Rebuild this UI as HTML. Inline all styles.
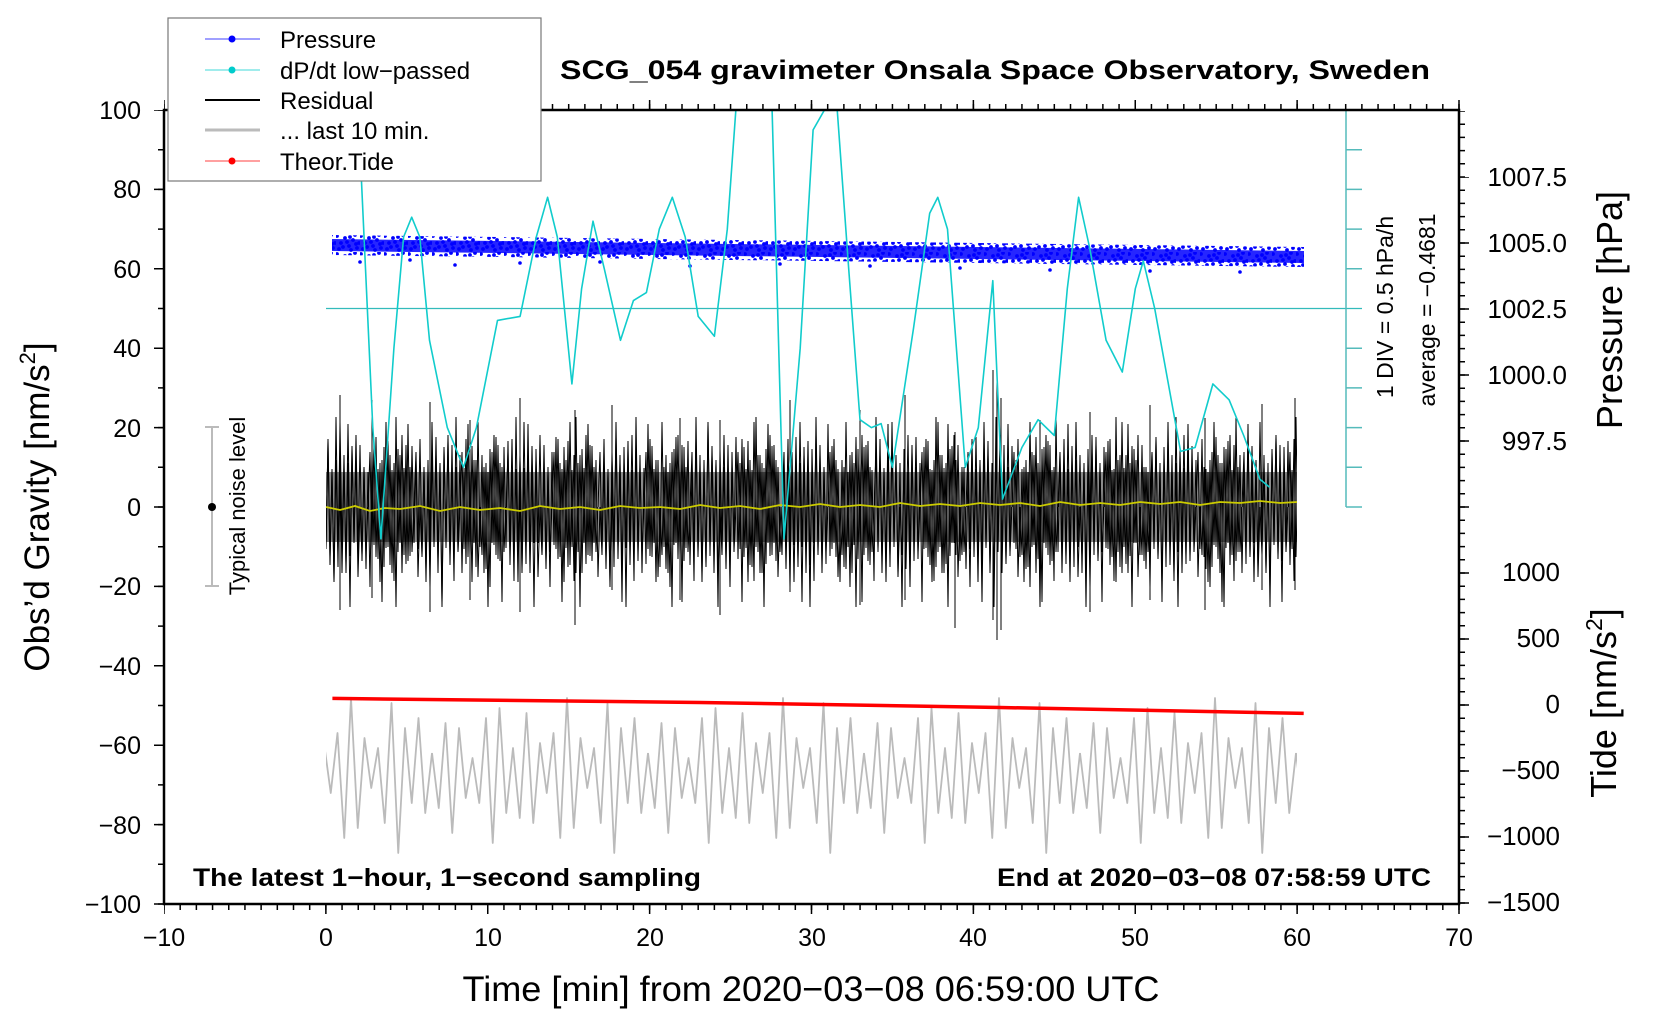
<!DOCTYPE html>
<html><head><meta charset="utf-8"><style>
html,body{margin:0;padding:0;background:#fff;}
svg{display:block;font-family:"Liberation Sans",Arial,sans-serif;}
</style></head><body>
<svg width="1660" height="1020" viewBox="0 0 1660 1020" xmlns="http://www.w3.org/2000/svg">
<defs>
<clipPath id="cp"><rect x="164" y="110" width="1295" height="794"/></clipPath>
<pattern id="r1" patternUnits="userSpaceOnUse" x="0" y="357" width="60" height="300">
<polyline fill="none" stroke="#000" stroke-width="1" points="0,150 2,198 4,110 6,212 8,115 10,230 12,95 14,188 16,80 18,202 20,106 22,245 24,90 26,191 28,84 30,208 32,113 34,224 36,60 38,195 40,98 42,216 44,111 46,207 48,67 50,199 52,89 54,186 56,103 58,220 60,150"/>
</pattern>
<pattern id="r2" patternUnits="userSpaceOnUse" x="0" y="357" width="46" height="300">
<polyline fill="none" stroke="#000" stroke-width="1" points="0,150 2,95 4,192 6,82 8,200 10,112 12,225 14,103 16,210 18,65 20,190 22,98 24,216 26,106 28,250 30,92 32,186 34,78 36,198 38,88 40,204 42,110 44,195 46,150"/>
</pattern>
<pattern id="gr" patternUnits="userSpaceOnUse" x="0" y="623" width="216" height="300">
<polyline fill="none" stroke="#bbb" stroke-width="1.8" stroke-linejoin="round" points="0,130 6.75,185 13.5,100 20.25,210 27,105 33.75,175 40.5,135 47.25,180 54,95 60.75,220 67.5,85 74.25,190 81,125 87.75,195 94.5,90 101.25,200 108,120 114.75,170 121.5,110 128.25,215 135,75 141.75,205 148.5,115 155.25,165 162,125 168.75,200 175.5,80 182.25,230 189,105 195.75,180 202.5,95 209.25,190 216,130"/>
</pattern>
<pattern id="pd" patternUnits="userSpaceOnUse" x="0" y="0" width="24" height="18">
<g fill="#00f">
<circle cx="1" cy="2" r="1.9"/><circle cx="5" cy="9" r="1.9"/><circle cx="9" cy="4" r="1.9"/><circle cx="13" cy="12" r="1.9"/>
<circle cx="17" cy="6" r="1.9"/><circle cx="21" cy="14" r="1.9"/><circle cx="3" cy="15" r="1.9"/><circle cx="11" cy="8" r="1.9"/>
<circle cx="19" cy="1" r="1.9"/><circle cx="7" cy="13" r="1.9"/><circle cx="15" cy="16" r="1.9"/><circle cx="23" cy="9" r="1.9"/>
<circle cx="14" cy="3" r="1.9"/><circle cx="20" cy="10" r="1.9"/>
</g>
</pattern>
</defs>
<g clip-path="url(#cp)">
<line x1="326" y1="308.5" x2="1362" y2="308.5" stroke="#3bb" stroke-width="1.3"/>
<line x1="1346" y1="110" x2="1346" y2="507" stroke="#5bb" stroke-width="1.5"/>
<path d="M1346 110h16M1346 149.7h16M1346 189.4h16M1346 229.1h16M1346 268.8h16M1346 348.2h16M1346 387.9h16M1346 427.6h16M1346 467.3h16M1346 507h16" stroke="#5bb" stroke-width="1.5"/>
<rect x="326" y="623" width="971" height="300" fill="url(#gr)"/>
<path d="M332.4 698.4 L700 702.5 L1000 707.5 L1303.7 713.4" fill="none" stroke="#f00" stroke-width="3.5"/>
<rect x="326" y="357" width="971" height="300" fill="url(#r1)"/>
<rect x="326" y="357" width="971" height="300" fill="url(#r2)"/>
<rect x="326" y="472" width="971" height="70" fill="#000" opacity="0.45"/>
<path d="M340 395V610M372 400V598M430 402V612M470 420V600M520 398V612M575 410V625M612 405V590M680 418V600M720 420V615M790 400V592M860 410V605M905 395V600M955 432V628M993 370V620M997 375V640M1001 398V630M1040 420V598M1090 412V612M1150 405V600M1205 418V610M1262 404V590M1295 398V590" stroke="#000" stroke-width="1"/>
<polyline fill="none" stroke="#cc0" stroke-width="1.8" points="326,507 340,510 355,506 370,511 385,508 400,509 420,506 440,511 460,507 480,510 500,508 520,511 540,506 560,509 580,507 600,510 620,506 640,508 660,507 680,509 700,505 720,508 740,506 760,509 780,505 800,507 820,504 840,507 860,505 880,507 900,503 920,506 940,504 960,506 980,503 1000,505 1020,503 1040,506 1060,502 1080,505 1100,503 1120,505 1140,502 1160,504 1180,502 1200,505 1220,502 1240,503 1260,501 1280,503 1297,502"/>
<polygon points="332,235 1304,247 1304,267 332,255" fill="url(#pd)"/>
<polygon points="332,239 1304,251 1304,263 332,251" fill="#00f" opacity="0.85"/>
<g fill="#00f"><circle cx="360" cy="262" r="1.8"/><circle cx="410" cy="260" r="1.8"/><circle cx="455" cy="265" r="1.8"/><circle cx="520" cy="263" r="1.8"/><circle cx="600" cy="262" r="1.8"/><circle cx="690" cy="266" r="1.8"/><circle cx="780" cy="264" r="1.8"/><circle cx="870" cy="266" r="1.8"/><circle cx="960" cy="268" r="1.8"/><circle cx="1050" cy="270" r="1.8"/><circle cx="1150" cy="271" r="1.8"/><circle cx="1240" cy="272" r="1.8"/></g>
<polyline fill="none" stroke="#1cc" stroke-width="1.6" stroke-linejoin="round" points="345.3,-9.1 361.5,181.5 372.8,427.6 380.9,538.8 393.9,348.2 403.6,237 411.7,217.2 419.8,237 429.5,340.3 447.3,427.6 463.5,467.3 476.4,427.6 497.5,320.4 520.1,316.4 536.3,237 547.6,197.3 557.3,237 571.9,383.9 581.6,288.7 593,221.2 604.3,268.8 620.5,340.3 633.4,300.6 646.4,292.6 659.3,229.1 672.3,197.3 685.2,237 698.2,316.4 714.4,336.3 727.3,229.1 738.7,70.3 771,70.3 784,538.8 800.2,348.2 813.1,129.9 835.8,90.1 848.7,268.8 860,419.7 871.4,427.6 881.1,423.6 892.4,467.3 913.5,328.4 929.7,213.2 937.8,197.3 947.5,229.1 965.3,467.3 978.3,427.6 992.8,280.7 1002.5,499.1 1021.9,447.5 1038.1,419.7 1054.3,435.5 1067.3,288.7 1078.6,197.3 1089.9,249 1106.1,340.3 1122.3,372 1135.3,288.7 1143.3,260.9 1154.7,308.5 1180.6,451.4 1195.1,447.5 1212.9,383.9 1229.1,399.8 1243.7,435.5 1259.9,479.2 1269.6,487.2"/>
</g>
<g stroke="#000" fill="none">
<line x1="164" y1="907" x2="1460" y2="907" stroke-width="6" stroke-dasharray="1.5 14.6875" stroke-dashoffset="0.75"/>
<line x1="164" y1="909" x2="1460" y2="909" stroke-width="10" stroke-dasharray="1.5 160.375" stroke-dashoffset="0.75"/>
<line x1="164" y1="107" x2="1460" y2="107" stroke-width="6" stroke-dasharray="1.5 14.6875" stroke-dashoffset="0.75"/>
<line x1="164" y1="105" x2="1460" y2="105" stroke-width="10" stroke-dasharray="1.5 160.375" stroke-dashoffset="0.75"/>
<line x1="161" y1="110" x2="161" y2="905" stroke-width="6" stroke-dasharray="1.5 38.2" stroke-dashoffset="0.75"/>
<line x1="159" y1="110" x2="159" y2="905" stroke-width="10" stroke-dasharray="1.5 77.9" stroke-dashoffset="0.75"/>
<line x1="1462" y1="111" x2="1462" y2="905" stroke-width="6" stroke-dasharray="1.5 11.7" stroke-dashoffset="0.75"/>
<line x1="1464" y1="177" x2="1464" y2="905" stroke-width="10" stroke-dasharray="1.5 64.5" stroke-dashoffset="0.75"/>
</g>
<rect x="164" y="110" width="1295" height="794" fill="none" stroke="#000" stroke-width="2.5"/>
<text x="560" y="79" font-size="27" font-weight="bold" textLength="870" lengthAdjust="spacingAndGlyphs">SCG_054 gravimeter Onsala Space Observatory, Sweden</text>
<rect x="168" y="18" width="373" height="163" fill="#fff" stroke="#777" stroke-width="1.2"/>
<line x1="205" y1="39" x2="260" y2="39" stroke="#00f" stroke-width="0.8"/><circle cx="232" cy="39" r="3.5" fill="#00f"/>
<line x1="205" y1="70" x2="260" y2="70" stroke="#0cc" stroke-width="0.8"/><circle cx="232" cy="70" r="3.5" fill="#0cc"/>
<line x1="205" y1="100" x2="260" y2="100" stroke="#000" stroke-width="2"/>
<line x1="205" y1="130" x2="260" y2="130" stroke="#bbb" stroke-width="3"/>
<line x1="205" y1="161" x2="260" y2="161" stroke="#f00" stroke-width="0.8"/><circle cx="232" cy="161" r="3.5" fill="#f00"/>
<g font-size="24">
<text x="280" y="48">Pressure</text>
<text x="280" y="79">dP/dt low−passed</text>
<text x="280" y="109">Residual</text>
<text x="280" y="139">... last 10 min.</text>
<text x="280" y="170">Theor.Tide</text>
</g>
<g font-size="25" text-anchor="end">
<text x="141" y="119">100</text><text x="141" y="198">80</text><text x="141" y="278">60</text>
<text x="141" y="357">40</text><text x="141" y="437">20</text><text x="141" y="516">0</text>
<text x="141" y="595">−20</text><text x="141" y="675">−40</text><text x="141" y="754">−60</text>
<text x="141" y="834">−80</text><text x="141" y="913">−100</text>
</g>
<text transform="translate(49,507) rotate(-90)" font-size="35" text-anchor="middle">Obs’d Gravity [nm/s<tspan font-size="22" dy="-14">2</tspan><tspan dy="14">]</tspan></text>
<g font-size="25" text-anchor="middle">
<text x="164" y="946">−10</text><text x="326" y="946">0</text><text x="488" y="946">10</text><text x="650" y="946">20</text>
<text x="812" y="946">30</text><text x="973" y="946">40</text><text x="1135" y="946">50</text><text x="1297" y="946">60</text><text x="1459" y="946">70</text>
</g>
<text x="811" y="1001" font-size="35" text-anchor="middle" textLength="697" lengthAdjust="spacingAndGlyphs">Time [min] from 2020−03−08 06:59:00 UTC</text>
<text x="193" y="886" font-size="25" font-weight="bold" textLength="508" lengthAdjust="spacingAndGlyphs">The latest 1−hour, 1−second sampling</text>
<text x="1431" y="886" font-size="25" font-weight="bold" text-anchor="end" textLength="434" lengthAdjust="spacingAndGlyphs">End at 2020−03−08 07:58:59 UTC</text>
<g font-size="26" text-anchor="end">
<text x="1567" y="186">1007.5</text><text x="1567" y="252">1005.0</text><text x="1567" y="318">1002.5</text>
<text x="1567" y="384">1000.0</text><text x="1567" y="450">997.5</text>
</g>
<g font-size="26" text-anchor="end">
<text x="1560" y="581">1000</text><text x="1560" y="647">500</text><text x="1560" y="713">0</text>
<text x="1560" y="779">−500</text><text x="1560" y="845">−1000</text><text x="1560" y="911">−1500</text>
</g>
<text transform="translate(1622,310) rotate(-90)" font-size="36" text-anchor="middle">Pressure [hPa]</text>
<text transform="translate(1616,703) rotate(-90)" font-size="36" text-anchor="middle">Tide [nm/s<tspan font-size="23" dy="-14">2</tspan><tspan dy="14">]</tspan></text>
<text transform="translate(1393,307) rotate(-90)" font-size="23" text-anchor="middle">1 DIV = 0.5 hPa/h</text>
<text transform="translate(1435,310) rotate(-90)" font-size="23" text-anchor="middle">average = −0.4681</text>
<line x1="212" y1="427" x2="212" y2="586" stroke="#bbb" stroke-width="2"/>
<line x1="205" y1="427" x2="219" y2="427" stroke="#bbb" stroke-width="2"/>
<line x1="205" y1="586" x2="219" y2="586" stroke="#bbb" stroke-width="2"/>
<circle cx="212" cy="507" r="4" fill="#000"/>
<text transform="translate(245,506) rotate(-90)" font-size="22" text-anchor="middle">Typical noise level</text>
</svg>
</body></html>
